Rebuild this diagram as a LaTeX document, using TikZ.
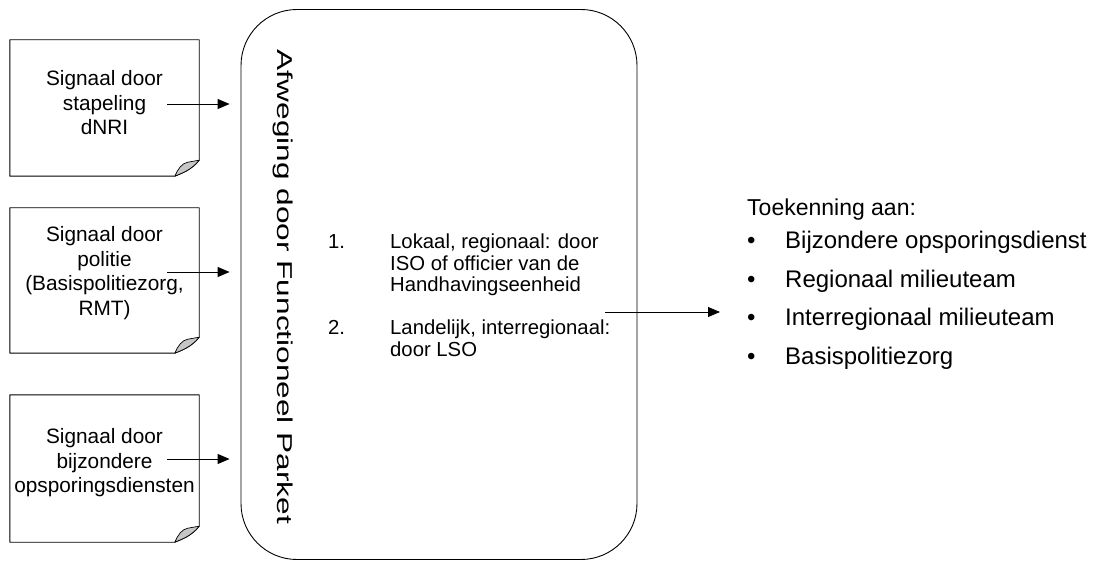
\documentclass[tikz,border=0pt]{standalone}
\usepackage{fontspec}
\setmainfont{Liberation Sans}
\usepackage{graphicx}
\usetikzlibrary{arrows.meta,calc}
\begin{document}
\begin{tikzpicture}[x=1pt,y=-1pt,
  line/.style={line width=0.9pt},
  docbox/.style={minimum width=189pt, inner sep=0pt},
  doctext/.style={align=center, inner sep=0pt, font=\fontsize{20.8}{24.5}\selectfont},
  midtext/.style={anchor=base west, inner sep=0pt, font=\fontsize{20.3}{24}\selectfont},
  righttext/.style={anchor=base west, inner sep=0pt, font=\fontsize{24}{27}\selectfont},
  arr/.style={line width=0.9pt, -{Triangle[length=12pt,width=10pt]}},
  fold/.style={fill=gray!45, draw, line width=0.7pt, line join=round}]
\useasboundingbox (0,0) rectangle (1098,561);

% document boxes
\node[docbox, minimum height=136pt] (d1) at (104.5,108) {};
\node[docbox, minimum height=145pt] (d2) at (104.5,280.5) {};
\node[docbox, minimum height=147pt] (d3) at (104.5,468.5) {};
\foreach \d in {d1,d2,d3} {
  \draw[line, line join=round] (\d.north west) -- (\d.north east) -- ($(\d.south east)+(0,-16)$)
     .. controls ($(\d.south east)+(-8,-6)$) and ($(\d.south west)+(172,-3)$) .. ($(\d.south west)+(165,0)$)
     -- (\d.south west) -- cycle;
  \draw[fold] ($(\d.south west)+(165,0)$) .. controls ($(\d.south west)+(168,-7)$) and ($(\d.south west)+(172,-13)$) .. ($(\d.south west)+(178,-14)$)
     .. controls ($(\d.south west)+(183,-15)$) .. ($(\d.south east)+(0,-16)$)
     .. controls ($(\d.south east)+(-8,-6)$) and ($(\d.south west)+(172,-3)$) .. ($(\d.south west)+(165,0)$) -- cycle;
}
\node[doctext] (t1) at (104.5,103) {Signaal door\\stapeling\\dNRI};
\node[doctext] (t2) at (104.5,273) {Signaal door\\politie\\(Basispolitiezorg,\\RMT)};
\node[doctext] (t3) at (104.5,463) {Signaal door\\bijzondere\\opsporingsdiensten};

% big rounded box
\node[draw, line width=0.9pt, rounded corners=56pt, minimum width=396pt, minimum height=550pt, inner sep=0pt] (fp) at (439,284.5) {};
\node[rotate=-90, inner sep=0pt, font=\fontsize{21.5}{24}\selectfont] (ti) at (283,287)
  {\scalebox{1.47}[1]{Afweging door Functioneel Parket}};

% middle list
\node[midtext] (n1) at (328,249) {1.};
\node[midtext] (l1a) at (390,249) {Lokaal, regionaal: door};
\node[midtext] (l1b) at (390,270.5) {ISO of officier van de};
\node[midtext] (l1c) at (390,292) {Handhavingseenheid};
\node[midtext] (n2) at (328,334.5) {2.};
\node[midtext] (l2a) at (390,334.5) {Landelijk, interregionaal:};
\node[midtext] (l2b) at (390,356) {door LSO};

% right list
\node[anchor=base west, inner sep=0pt, font=\fontsize{23}{26}\selectfont] (tk) at (747,216) {Toekenning aan:};
\node[righttext] (b1) at (747,249) {•};
\node[righttext] (r1) at (785,249) {Bijzondere opsporingsdienst};
\node[righttext] (b2) at (747,287.5) {•};
\node[righttext] (r2) at (785,287.5) {Regionaal milieuteam};
\node[righttext] (b3) at (747,326) {•};
\node[righttext] (r3) at (785,326) {Interregionaal milieuteam};
\node[righttext] (b4) at (747,364.5) {•};
\node[righttext] (r4) at (785,364.5) {Basispolitiezorg};

% arrows
\coordinate (s1) at (167,104);
\coordinate (s2) at (167,272);
\coordinate (s3) at (167,459);
\coordinate (s4) at (605,312);
\foreach \s in {s1,s2,s3} {
  \draw[arr, shorten >=11pt] (\s) -- (\s -| fp.west);
}
\draw[arr, shorten >=27pt] (s4) -- (s4 -| tk.west);
\end{tikzpicture}
\end{document}
